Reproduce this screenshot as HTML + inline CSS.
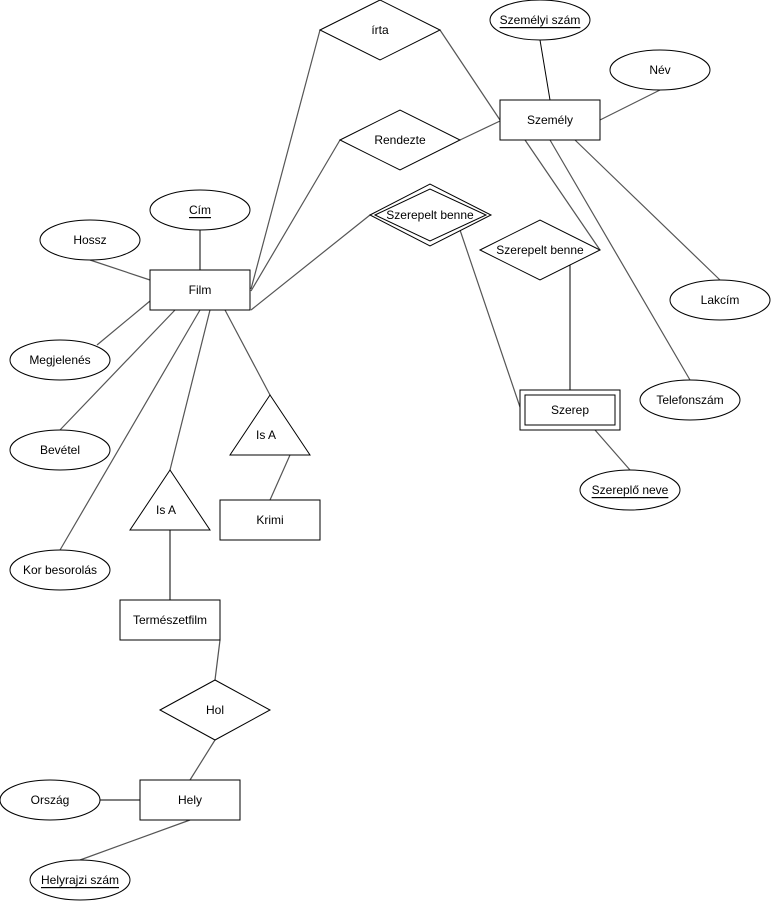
<!DOCTYPE html>
<html><head><meta charset="utf-8"><style>
html,body{margin:0;padding:0;background:#fff;}
svg{display:block;}
text{font-family:"Liberation Sans",Arial,sans-serif;font-size:12px;fill:#000;text-anchor:middle;dominant-baseline:central;}
.l{stroke:#555;stroke-width:1.2;fill:none;}
.k{stroke:#000;stroke-width:1;fill:none;}
.s{stroke:#000;stroke-width:1;fill:#fff;}
</style></head><body>
<svg width="771" height="901" viewBox="0 0 771 901" xmlns="http://www.w3.org/2000/svg">
<line class="l" x1="320" y1="30" x2="251" y2="289"/>
<line class="l" x1="440" y1="30" x2="500" y2="120"/>
<line class="l" x1="340" y1="140" x2="251" y2="291"/>
<line class="l" x1="460" y1="140" x2="500" y2="121"/>
<line class="l" x1="370" y1="215" x2="251" y2="310"/>
<line class="l" x1="460" y1="230" x2="521" y2="410"/>
<line class="k" x1="570" y1="265" x2="570" y2="390"/>
<line class="l" x1="525" y1="140" x2="600" y2="250"/>
<line class="l" x1="550" y1="140" x2="690" y2="380"/>
<line class="l" x1="575" y1="140" x2="720" y2="280"/>
<line class="k" x1="540" y1="40" x2="550" y2="100"/>
<line class="l" x1="600" y1="120" x2="660" y2="90"/>
<line class="l" x1="595" y1="430" x2="630" y2="470"/>
<line class="k" x1="200" y1="230" x2="200" y2="270"/>
<line class="l" x1="90" y1="260" x2="150" y2="280"/>
<line class="l" x1="97" y1="345" x2="150" y2="301"/>
<line class="l" x1="60" y1="430" x2="175" y2="310"/>
<line class="l" x1="60" y1="550" x2="200" y2="310"/>
<line class="l" x1="170" y1="470" x2="210" y2="310"/>
<line class="l" x1="270" y1="395" x2="225" y2="310"/>
<line class="l" x1="290" y1="455" x2="270" y2="500"/>
<line class="k" x1="170" y1="530" x2="170" y2="600"/>
<line class="l" x1="220" y1="640" x2="215" y2="680"/>
<line class="l" x1="215" y1="740" x2="190" y2="780"/>
<line class="k" x1="100" y1="800" x2="140" y2="800"/>
<line class="l" x1="80" y1="860" x2="190" y2="820"/>
<polygon class="s" points="320,30 380,0 440,30 380,60"/><text x="380" y="30">írta</text>
<polygon class="s" points="340,140 400,110 460,140 400,170"/><text x="400" y="140">Rendezte</text>
<polygon class="s" points="370,215 430,184 491,215 430,246"/>
<polygon class="s" points="375,215 430,189 486,215 430,241"/><text x="430" y="215">Szerepelt benne</text>
<polygon class="s" points="480,250 540,220 600,250 540,280"/><text x="540" y="250">Szerepelt benne</text>
<polygon class="s" points="160,710 215,680 270,710 215,740"/><text x="215" y="710">Hol</text>
<polygon class="s" points="230,455 310,455 270,395"/><text x="266" y="435">Is A</text>
<polygon class="s" points="130,530 210,530 170,470"/><text x="166" y="510">Is A</text>
<rect class="s" x="500" y="100" width="100" height="40"/><text x="550" y="120">Személy</text>
<rect class="s" x="150" y="270" width="100" height="40"/><text x="200" y="290">Film</text>
<rect class="s" x="520" y="390" width="100" height="40"/><rect class="s" x="525" y="395" width="90" height="30"/><text x="570" y="410">Szerep</text>
<rect class="s" x="220" y="500" width="100" height="40"/><text x="270" y="520">Krimi</text>
<rect class="s" x="120" y="600" width="100" height="40"/><text x="170" y="620">Természetfilm</text>
<rect class="s" x="140" y="780" width="100" height="40"/><text x="190" y="800">Hely</text>
<ellipse class="s" cx="540" cy="20" rx="50" ry="20"/><text x="540" y="20" text-decoration="underline">Személyi szám</text>
<ellipse class="s" cx="660" cy="70" rx="50" ry="20"/><text x="660" y="70">Név</text>
<ellipse class="s" cx="720" cy="300" rx="50" ry="20"/><text x="720" y="300">Lakcím</text>
<ellipse class="s" cx="690" cy="400" rx="50" ry="20"/><text x="690" y="400">Telefonszám</text>
<ellipse class="s" cx="630" cy="490" rx="50" ry="20"/><text x="630" y="490" text-decoration="underline">Szereplő neve</text>
<ellipse class="s" cx="200" cy="210" rx="50" ry="20"/><text x="200" y="210" text-decoration="underline">Cím</text>
<ellipse class="s" cx="90" cy="240" rx="50" ry="20"/><text x="90" y="240">Hossz</text>
<ellipse class="s" cx="60" cy="360" rx="50" ry="20"/><text x="60" y="360">Megjelenés</text>
<ellipse class="s" cx="60" cy="450" rx="50" ry="20"/><text x="60" y="450">Bevétel</text>
<ellipse class="s" cx="60" cy="570" rx="50" ry="20"/><text x="60" y="570">Kor besorolás</text>
<ellipse class="s" cx="50" cy="800" rx="50" ry="20"/><text x="50" y="800">Ország</text>
<ellipse class="s" cx="80" cy="880" rx="50" ry="20"/><text x="80" y="880" text-decoration="underline">Helyrajzi szám</text>
</svg>
</body></html>
